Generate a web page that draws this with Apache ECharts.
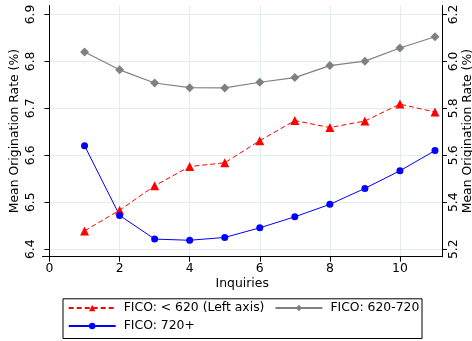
<!DOCTYPE html>
<html>
<head>
<meta charset="utf-8">
<script src="https://cdn.jsdelivr.net/npm/echarts@6/dist/echarts.min.js"></script>
<style>
  html, body { margin: 0; padding: 0; background: #fff; }
  #chart { width: 472px; height: 341px; }
</style>
</head>
<body>
<div id="chart"></div>
<script>
// Number of credit inquiries
const inquiries = [1, 2, 3, 4, 5, 6, 7, 8, 9, 10, 11];

// Mean origination rate (%) by FICO band
const ficoLow = [6.439, 6.483, 6.535, 6.576, 6.584, 6.631, 6.674, 6.659, 6.673, 6.709, 6.692]; // left axis
const ficoMid = [6.040, 5.964, 5.908, 5.888, 5.887, 5.911, 5.931, 5.982, 6.001, 6.057, 6.105]; // right axis
const ficoHigh = [5.641, 5.344, 5.243, 5.238, 5.250, 5.291, 5.338, 5.391, 5.459, 5.534, 5.620]; // right axis

// Series names
const names = ['FICO: < 620 (Left axis)', 'FICO: 620-720', 'FICO: 720+'];

// Tick values
const xTicks = [0, 2, 4, 6, 8, 10];
const leftTicks = [6.4, 6.5, 6.6, 6.7, 6.8, 6.9];
const rightTicks = [5.2, 5.4, 5.6, 5.8, 6.0, 6.2];

const font = 'DejaVu Sans';
const fs = 12.4;
const gridColor = '#e4edee';

const pairs = (xs, ys) => xs.map((x, i) => [x, ys[i]]);

// shared legend styling; the key is split over two rows inside one framed box
const legendBase = {
  orient: 'horizontal',
  padding: 0,
  itemGap: 10,
  itemWidth: 47,
  itemHeight: 8,
  textStyle: { fontFamily: font, fontSize: fs, color: '#000', padding: [0, 1, 0, 3] }
};

const chart = echarts.init(document.getElementById('chart'), null, { renderer: 'canvas' });
chart.setOption({
  animation: false,
  backgroundColor: '#ffffff',
  textStyle: { fontFamily: font },
  grid: { left: 42.5, right: 30, top: 5.5, bottom: 84.3, containLabel: false, outerBoundsMode: 'none' },
  graphic: [{
    type: 'rect',
    left: 62.5,
    top: 298.3,
    shape: { width: 359, height: 39.7 },
    style: { fill: '#fff', stroke: '#000', lineWidth: 1 },
    z: -1
  }],
  xAxis: {
    type: 'value',
    min: -0.2,
    max: 11.2,
    name: 'Inquiries',
    nameLocation: 'middle',
    nameGap: 21,
    nameMoveOverlap: false,
    nameTextStyle: { fontFamily: font, fontSize: fs, color: '#000' },
    axisLine: { show: true, lineStyle: { color: '#000', width: 1 } },
    axisTick: { show: true, length: 5, customValues: xTicks, lineStyle: { color: '#000' } },
    axisLabel: { customValues: xTicks, fontFamily: font, fontSize: fs, color: '#000', margin: 6 },
    splitLine: { show: true, lineStyle: { color: gridColor, width: 1 } }
  },
  yAxis: [
    {
      type: 'value',
      position: 'left',
      min: 6.384,
      max: 6.919,
      name: 'Mean Origination Rate (%)',
      nameLocation: 'middle',
      nameRotate: 90,
      nameGap: 22,
      nameMoveOverlap: false,
      nameTextStyle: { fontFamily: font, fontSize: fs, color: '#000' },
      axisLine: { show: true, lineStyle: { color: '#000', width: 1 } },
      axisTick: { show: true, length: 5, customValues: leftTicks, lineStyle: { color: '#000' } },
      axisLabel: {
        customValues: leftTicks, rotate: 90, fontFamily: font, fontSize: fs, color: '#000', margin: 6,
        formatter: v => v.toFixed(1)
      },
      splitLine: { show: true, lineStyle: { color: gridColor, width: 1 } }
    },
    {
      type: 'value',
      position: 'right',
      min: 5.168,
      max: 6.238,
      name: 'Mean Origination Rate (%)',
      nameLocation: 'middle',
      nameRotate: 90,
      nameGap: 19.5,
      nameMoveOverlap: false,
      nameTextStyle: { fontFamily: font, fontSize: fs, color: '#000' },
      axisLine: { show: true, lineStyle: { color: '#000', width: 1 } },
      axisTick: { show: true, length: 5, customValues: rightTicks, lineStyle: { color: '#000' } },
      axisLabel: {
        customValues: rightTicks, rotate: 90, fontFamily: font, fontSize: fs, color: '#000', margin: 6,
        formatter: v => v.toFixed(1)
      },
      splitLine: { show: false }
    }
  ],
  legend: [
    Object.assign({}, legendBase, { left: 67.7, top: 302, data: names.slice(0, 2) }),
    Object.assign({}, legendBase, { left: 67.7, top: 320, data: names.slice(2) })
  ],
  series: [
    {
      name: names[0],
      type: 'line',
      yAxisIndex: 0,
      data: pairs(inquiries, ficoLow),
      symbol: 'triangle',
      symbolSize: 9,
      itemStyle: { color: '#ff0000' },
      lineStyle: { color: '#ff0000', width: 1, type: [5, 3] }
    },
    {
      name: names[1],
      type: 'line',
      yAxisIndex: 1,
      data: pairs(inquiries, ficoMid),
      symbol: 'diamond',
      symbolSize: 9,
      itemStyle: { color: '#808080' },
      lineStyle: { color: '#808080', width: 1.2 }
    },
    {
      name: names[2],
      type: 'line',
      yAxisIndex: 1,
      data: pairs(inquiries, ficoHigh),
      symbol: 'circle',
      symbolSize: 7,
      itemStyle: { color: '#0000ff' },
      lineStyle: { color: '#0000ff', width: 1 }
    }
  ]
});
</script>
</body>
</html>
